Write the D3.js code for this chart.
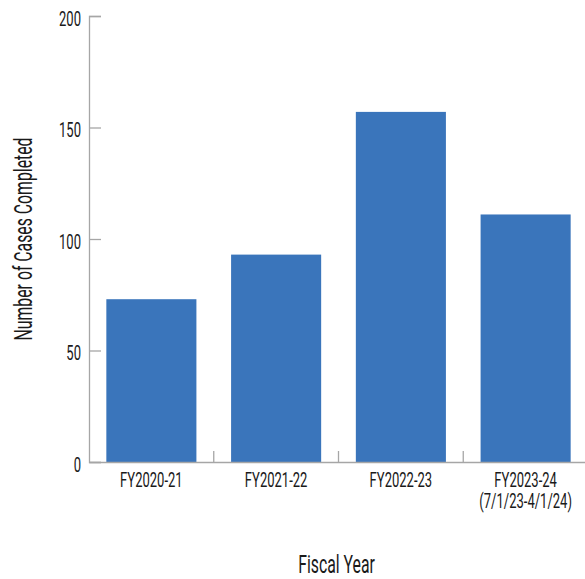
<!DOCTYPE html>
<html>
<head>
<meta charset="utf-8">
<script src="https://cdn.jsdelivr.net/npm/d3@7"></script>
<style>
  html, body { margin: 0; padding: 0; background: #fff; overflow: hidden; }
  svg { display: block; }
  text { font-family: Roboto, "Noto Sans", sans-serif; fill: #1a1a1a; }
</style>
</head>
<body>
<svg id="chart" width="585" height="579"></svg>
<script>
const categories = ["FY2020-21", "FY2021-22", "FY2022-23", "FY2023-24\n(7/1/23-4/1/24)"];
const values = [73, 93, 157, 111];
const yTicks = [0, 50, 100, 150, 200];
const xTitle = "Fiscal Year";
const yTitle = "Number of Cases Completed";

const W = 585, H = 579;
const margin = { left: 89, right: -3, top: 16, bottom: 117 };
const SX = 0.62;          // horizontal condensing of the font
const FS = 21;            // tick label font size
const TFS = 25.5;         // title font size
const barColor = "#3a75bb";
const axisColor = "#a6a6a6";

const svg = d3.select("#chart");

const x = d3.scaleBand()
  .domain(categories)
  .range([margin.left, W - margin.right])
  .paddingInner(0.278)
  .paddingOuter(0.139);

const y = d3.scaleLinear()
  .domain([0, 200])
  .range([H - margin.bottom, margin.top]);

function condText(g, xPos, yPos, str, anchor, size, rotate) {
  const grp = g.append("g")
    .attr("transform", `translate(${xPos},${yPos})` + (rotate ? ` rotate(${rotate})` : ""));
  const t = grp.append("text")
    .attr("transform", `scale(${SX},1)`)
    .attr("text-anchor", anchor)
    .attr("font-size", size);
  str.split("\n").forEach((ln, i) => {
    t.append("tspan").attr("x", 0).attr("dy", i === 0 ? 0 : size).text(ln);
  });
  return t;
}

// bars
svg.append("g").selectAll("rect")
  .data(categories)
  .join("rect")
  .attr("x", d => x(d))
  .attr("width", x.bandwidth())
  .attr("y", (d, i) => y(values[i]))
  .attr("height", (d, i) => y(0) - y(values[i]))
  .attr("fill", barColor);

// y axis
const yAxis = svg.append("g")
  .attr("transform", `translate(${margin.left},0)`)
  .call(d3.axisLeft(y).tickValues(yTicks).tickSize(-12).tickFormat(""));
yAxis.select(".domain").attr("stroke", axisColor).attr("stroke-width", 1.3);
yAxis.selectAll(".tick line").attr("stroke", axisColor).attr("stroke-width", 1.3);

const yLab = svg.append("g");
yTicks.forEach(t => condText(yLab, margin.left - 8, y(t) + 9.5, String(t), "end", FS));

// x axis
const xAxis = svg.append("g")
  .attr("transform", `translate(0,${y(0)})`)
  .call(d3.axisBottom(x).tickSize(0).tickFormat(""));
xAxis.select(".domain").attr("stroke", axisColor).attr("stroke-width", 1.3);
xAxis.selectAll(".tick").remove();

// boundary ticks between bands (pointing up)
const gap = (x.step() - x.bandwidth()) / 2;
svg.append("g").selectAll("line")
  .data(categories.slice(1))
  .join("line")
  .attr("x1", d => x(d) - gap)
  .attr("x2", d => x(d) - gap)
  .attr("y1", y(0))
  .attr("y2", y(0) - 11)
  .attr("stroke", axisColor)
  .attr("stroke-width", 1.3);

// x labels
const xLab = svg.append("g");
categories.forEach(c => {
  condText(xLab, x(c) + x.bandwidth() / 2, y(0) + 25, c, "middle", FS);
});

// titles
condText(svg, (margin.left + W - margin.right) / 2 - 2, 573, xTitle, "middle", TFS);
condText(svg, 32, (y(0) + y(200)) / 2, yTitle, "middle", TFS, -90);
</script>
</body>
</html>
